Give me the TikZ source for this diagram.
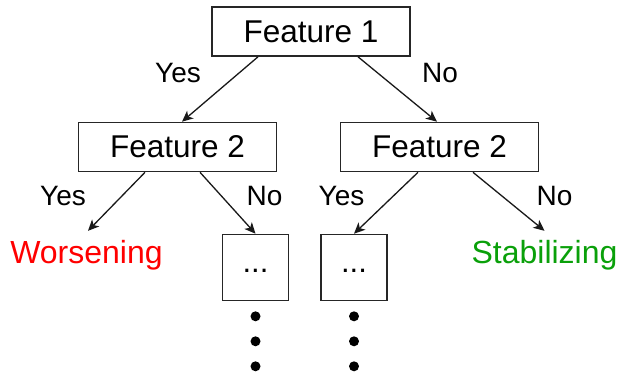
\documentclass[tikz,border=0pt]{standalone}
\usepackage{fontspec}
\setmainfont{Liberation Sans}
\usepackage{tikz}
\usetikzlibrary{positioning,arrows.meta}
\definecolor{worsered}{RGB}{255,0,0}
\definecolor{stabgreen}{RGB}{10,160,10}

\begin{document}
\begin{tikzpicture}[x=0.5pt, y=0.5pt,
featnode/.style={rectangle, draw=black!85, line width=0.8pt, fill=white, inner sep=0pt, minimum width=99pt, minimum height=24.5pt, font=\fontsize{15.75}{18}\selectfont},
morenode/.style={rectangle, draw=black!85, line width=0.8pt, inner sep=0pt, minimum width=33pt, minimum height=33pt, text height=0.75em, text depth=0.25em, font=\fontsize{15.5}{18}\selectfont},
leafnode/.style={inner sep=0pt, outer sep=4.5pt, font=\fontsize{16}{18}\selectfont},
answer/.style={inner sep=0pt, font=\fontsize{14}{16}\selectfont},
dotnode/.style={circle, fill=black, inner sep=0pt, minimum size=5pt, outer sep=0pt},
link/.style={-{Stealth[length=5.5pt, width=5pt, inset=1.5pt]}, line width=0.65pt, draw=black!90},
]
\useasboundingbox (0,0) rectangle (619,371);

%Nodes
\node[featnode]                 (feat1)   at (311,339.5)   {Feature 1};
\node[featnode]                 (feat2a)  at (177.5,224)   {Feature 2};
\node[featnode]                 (feat2b)  at (439.5,224)   {Feature 2};
\node[leafnode, anchor=base, text=worsered]   (worse)  at (86.5,108)   {Worsening};
\node[leafnode, anchor=base, text=stabgreen]  (stab)   at (544.5,108)  {Stabilizing};
\node[morenode]                 (more1)   at (255.5,103.5) {...};
\node[morenode]                 (more2)   at (354,103.5)   {...};

%Answers
\node[answer]   (yes1)  at (178,297.5)  {Yes};
\node[answer]   (no1)   at (440,297.5)  {No};
\node[answer]   (yes2)  at (63,175)     {Yes};
\node[answer]   (no2)   at (264.5,175)  {No};
\node[answer]   (yes3)  at (341.5,175)  {Yes};
\node[answer]   (no3)   at (554.5,175)  {No};

%Dots
\node[dotnode]  (dot1a)  [below=5pt of more1]    {};
\node[dotnode]  (dot1b)  [below=7.5pt of dot1a]  {};
\node[dotnode]  (dot1c)  [below=7.5pt of dot1b]  {};
\node[dotnode]  (dot2a)  [below=5pt of more2]    {};
\node[dotnode]  (dot2b)  [below=7.5pt of dot2a]  {};
\node[dotnode]  (dot2c)  [below=7.5pt of dot2b]  {};

%Lines
\draw[link] ([xshift=-26.5pt]feat1.south) -- ([xshift=2.25pt]feat2a.north);
\draw[link] ([xshift=23.5pt]feat1.south) -- ([xshift=-1.25pt]feat2b.north);
\draw[link] ([xshift=-16.25pt]feat2a.south) -- ([xshift=0.75pt]worse.north);
\draw[link] ([xshift=11.25pt]feat2a.south) -- (more1.north);
\draw[link] ([xshift=-10.75pt]feat2b.south) -- (more2.north);
\draw[link] ([xshift=16.75pt]feat2b.south) -- (stab.north);
\end{tikzpicture}
\end{document}
